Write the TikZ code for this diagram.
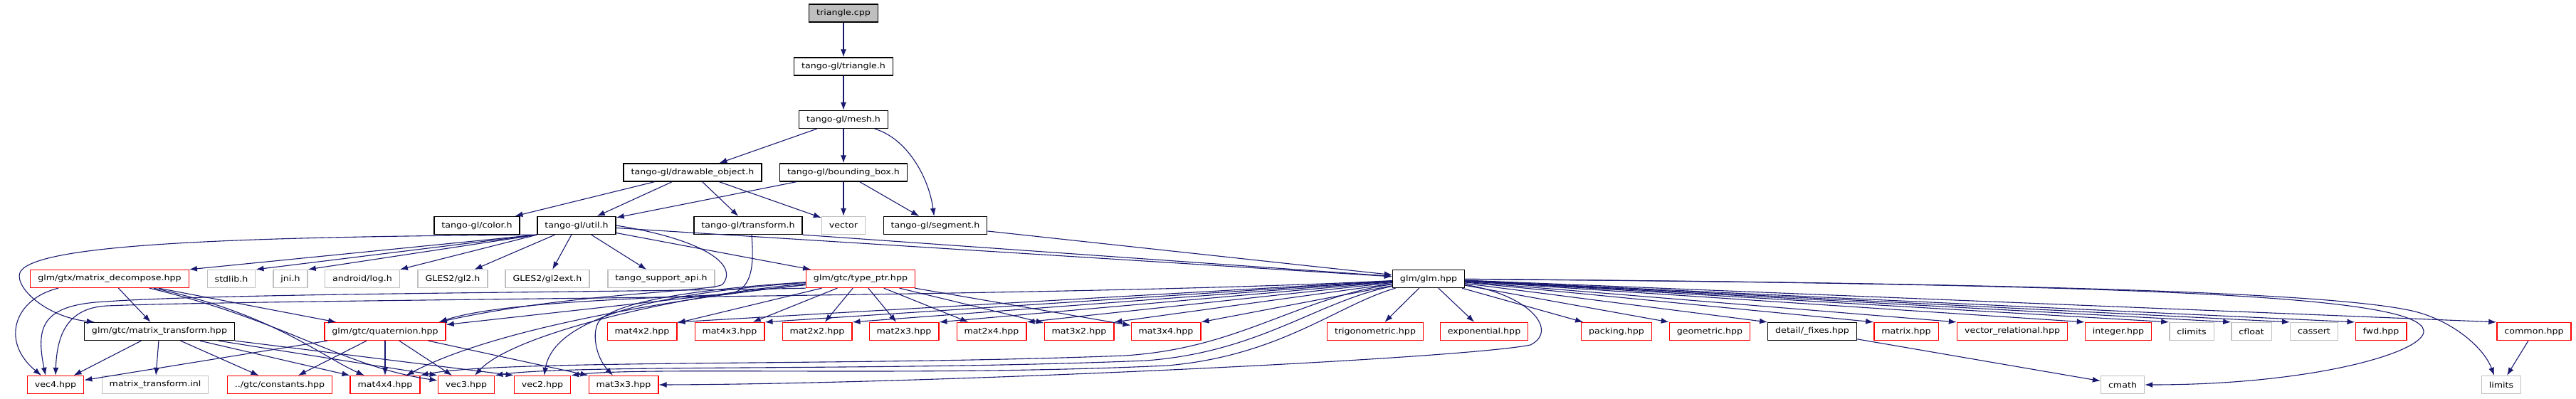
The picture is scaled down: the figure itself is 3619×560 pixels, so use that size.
\documentclass[tikz,border=0pt]{standalone}
\usepackage{fontspec}
\setmainfont[FakeStretch=1.15]{DejaVu Sans}
\usepackage{tikz}
\usetikzlibrary{shapes,arrows,arrows.meta}
\definecolor{edgeblue}{HTML}{191970}
\definecolor{nodegray}{HTML}{BFBFBF}
\tikzstyle{header} = [rectangle, draw=black, fill=white, line width=1.3pt,
    minimum height=25pt, inner xsep=10.5pt, inner ysep=0pt,
    font=\fontsize{11}{13}\selectfont]
\tikzstyle{source} = [header, fill=nodegray]
\tikzstyle{trunc} = [header, draw=red]
\tikzstyle{extern} = [header, draw=nodegray]
\tikzstyle{line} = [draw=edgeblue, line width=1.1pt, -{Latex[length=11pt,width=8pt]}]

\begin{document}
\begin{tikzpicture}[x=1pt, y=-1pt]
    \path [use as bounding box, fill=white] (0,0) rectangle (3619,560);
    % Place nodes
    \node [source] (tricpp) at (1185,18.5) {triangle.cpp};
    \node [header] (trih) at (1185,93.5) {tango-gl/triangle.h};
    \node [header] (mesh) at (1185,168) {tango-gl/mesh.h};
    \node [header] (drawable) at (973,242.5) {tango-gl/drawable\_object.h};
    \node [header] (bbox) at (1185,242.5) {tango-gl/bounding\_box.h};
    \node [header] (color) at (670,317) {tango-gl/color.h};
    \node [header] (util) at (810,317) {tango-gl/util.h};
    \node [header] (transform) at (1051,317) {tango-gl/transform.h};
    \node [extern] (vector) at (1185,317) {vector};
    \node [header] (segment) at (1314,317) {tango-gl/segment.h};
    \node [trunc] (decompose) at (154,392) {glm/gtx/matrix\_decompose.hpp};
    \node [extern] (stdlib) at (325,392) {stdlib.h};
    \node [extern] (jni) at (408,392) {jni.h};
    \node [extern] (log) at (509,392) {android/log.h};
    \node [extern] (gl2) at (636,392) {GLES2/gl2.h};
    \node [extern] (gl2ext) at (769,392) {GLES2/gl2ext.h};
    \node [extern] (tsapi) at (929,392) {tango\_support\_api.h};
    \node [trunc] (typeptr) at (1209,392) {glm/gtc/type\_ptr.hpp};
    \node [header] (glm) at (2007,392) {glm/glm.hpp};
    \node [header] (mtransform) at (224,466) {glm/gtc/matrix\_transform.hpp};
    \node [trunc] (quat) at (541,466) {glm/gtc/quaternion.hpp};
    \node [trunc] (m4x2) at (902,466) {mat4x2.hpp};
    \node [trunc] (m4x3) at (1025,466) {mat4x3.hpp};
    \node [trunc] (m2x2) at (1148,466) {mat2x2.hpp};
    \node [trunc] (m2x3) at (1270,466) {mat2x3.hpp};
    \node [trunc] (m2x4) at (1393,466) {mat2x4.hpp};
    \node [trunc] (m3x2) at (1516,466) {mat3x2.hpp};
    \node [trunc] (m3x4) at (1638,466) {mat3x4.hpp};
    \node [trunc] (trig) at (1932,466) {trigonometric.hpp};
    \node [trunc] (expo) at (2085,466) {exponential.hpp};
    \node [trunc] (packing) at (2271,466) {packing.hpp};
    \node [trunc] (geom) at (2402,466) {geometric.hpp};
    \node [header] (fixes) at (2546,466) {detail/\_fixes.hpp};
    \node [trunc] (matrix) at (2678,466) {matrix.hpp};
    \node [trunc] (vecrel) at (2827,466) {vector\_relational.hpp};
    \node [trunc] (integer) at (2976,466) {integer.hpp};
    \node [extern] (climits) at (3079,466) {climits};
    \node [extern] (cfloat) at (3163,466) {cfloat};
    \node [extern] (cassert) at (3251,466) {cassert};
    \node [trunc] (fwd) at (3345,466) {fwd.hpp};
    \node [trunc] (common) at (3560,466) {common.hpp};
    \node [trunc] (vec4) at (78,541) {vec4.hpp};
    \node [extern] (mtinl) at (218,541) {matrix\_transform.inl};
    \node [trunc] (constants) at (393,541) {../gtc/constants.hpp};
    \node [trunc] (m4x4) at (541,541) {mat4x4.hpp};
    \node [trunc] (vec3) at (655,541) {vec3.hpp};
    \node [trunc] (vec2) at (762,541) {vec2.hpp};
    \node [trunc] (m3x3) at (876,541) {mat3x3.hpp};
    \node [extern] (cmath) at (2982,541) {cmath};
    \node [extern] (limits) at (3514,541) {limits};
    % Draw edges
    \path [line] (tricpp) -- (trih);
    \path [line] (trih) -- (mesh);
    \path [line] (mesh) -- (drawable);
    \path [line] (mesh) -- (bbox);
    \path [line] (mesh) .. controls (1275,195) and (1305,250) .. (segment);
    \path [line] (drawable) -- (color);
    \path [line] (drawable) -- (util);
    \path [line] (drawable) -- (transform);
    \path [line] (drawable) -- (vector);
    \path [line] (bbox) -- (util);
    \path [line] (bbox) -- (vector);
    \path [line] (bbox) -- (segment);
    % util.h
    \path [line] (util.south west) -- (decompose.north east);
    \path [line] (util.south west) -- (stdlib.north east);
    \path [line] (util.south west) -- (jni.north east);
    \path [line] (util.south west) -- (log.north east);
    \path [line] (util) -- (gl2);
    \path [line] (util) -- (gl2ext);
    \path [line] (util) -- (tsapi);
    \path [line] (util) -- (typeptr);
    \path [line] (util) -- (glm);
    \path [line] (util.south west) .. controls (300,333) and (60,345) .. (30,380)
        .. controls (15,398) and (60,445) .. ([xshift=15pt]mtransform.north west);
    \path [line] (util.east) .. controls (980,335) and (1040,370) .. (1015,400)
        .. controls (1000,410) and (800,412) .. ([xshift=-10pt]quat.north east);
    % transform.h and segment.h
    \path [line] ([xshift=5pt]transform.south) .. controls (1060,380) and (1055,410) .. (1020,414)
        .. controls (900,420) and (700,425) .. ([xshift=-10pt]quat.north east);
    \path [line] (transform.south east) -- (glm);
    \path [line] (segment) -- (glm);
    % matrix_decompose.hpp
    \path [line] ([xshift=40pt]decompose.south west) .. controls (20,420) and (0,480) .. ([xshift=-20pt]vec4.north);
    \path [line] (decompose) -- (mtransform);
    \path [line] (decompose) -- (quat);
    \path [line] (decompose) .. controls (380,440) and (450,500) .. (m4x4);
    \path [line] (decompose) .. controls (400,450) and (480,515) .. (vec3);
    % matrix_transform.hpp
    \path [line] (mtransform) -- (vec4);
    \path [line] (mtransform) -- (mtinl);
    \path [line] (mtransform) -- (constants);
    \path [line] (mtransform) -- (m4x4.north west);
    \path [line] (mtransform) -- (vec3.north west);
    \path [line] (mtransform) -- (vec2.north west);
    % quaternion.hpp
    \path [line] (quat) -- (vec4);
    \path [line] (quat) -- (constants);
    \path [line] (quat) -- (m4x4);
    \path [line] (quat) -- (vec3);
    \path [line] (quat) -- (m3x3.north west);
    % type_ptr.hpp
    \path [line] (typeptr) -- (quat);
    \path [line] (typeptr) -- (m4x2);
    \path [line] (typeptr) -- (m4x3);
    \path [line] (typeptr) -- (m2x2);
    \path [line] (typeptr) -- (m2x3);
    \path [line] (typeptr) -- (m2x4);
    \path [line] (typeptr) -- (m3x2);
    \path [line] (typeptr) -- (m3x4);
    \path [line] (typeptr.south west) .. controls (800,412) and (300,412) .. (134,425)
        .. controls (60,432) and (50,460) .. ([xshift=-14pt]vec4.north);
    \path [line] (typeptr) .. controls (950,420) and (700,460) .. ([xshift=-20pt]m4x4.north east);
    \path [line] (typeptr) .. controls (950,415) and (720,470) .. (vec3);
    \path [line] (typeptr) .. controls (950,410) and (780,440) .. (vec2);
    \path [line] (typeptr) .. controls (1000,405) and (880,420) .. (845,448)
        .. controls (830,460) and (835,500) .. ([xshift=-15pt]m3x3.north);
    % glm.hpp, to the left
    \path [line] (glm) -- (m4x2.north east);
    \path [line] (glm) -- (m4x3.north east);
    \path [line] (glm) -- (m2x2.north east);
    \path [line] (glm) -- (m2x3.north east);
    \path [line] (glm) -- (m2x4.north east);
    \path [line] (glm) -- (m3x2.north east);
    \path [line] (glm) -- (m3x4.north east);
    \path [line] (glm) .. controls (1500,418) and (400,420) .. (150,430)
        .. controls (95,433) and (80,470) .. (vec4.north);
    \path [line] (glm) .. controls (1820,420) and (1740,490) .. (1580,500)
        .. controls (1200,515) and (700,505) .. (m4x4.north east);
    \path [line] (glm) .. controls (1850,424) and (1770,495) .. (1610,507)
        .. controls (1250,522) and (800,512) .. (vec3.north east);
    \path [line] (glm) .. controls (1880,428) and (1800,500) .. (1640,514)
        .. controls (1300,530) and (900,515) .. (vec2.north east);
    \path [line] (glm) .. controls (2150,415) and (2190,465) .. (2150,485)
        .. controls (2050,505) and (1300,540) .. (m3x3.east);
    % glm.hpp, to the right
    \path [line] (glm) -- (trig);
    \path [line] (glm) -- (expo);
    \path [line] (glm) -- (packing);
    \path [line] (glm) -- (geom.north west);
    \path [line] (glm) -- (fixes.north west);
    \path [line] (glm) -- (matrix.north west);
    \path [line] (glm) -- (vecrel.north west);
    \path [line] (glm) -- (integer.north west);
    \path [line] (glm) -- (climits.north west);
    \path [line] (glm) -- (cfloat.north west);
    \path [line] (glm) -- (cassert.north west);
    \path [line] (glm) -- (fwd.north west);
    \path [line] (glm) -- (common.north west);
    \path [line] (glm) .. controls (3000,400) and (3400,415) .. (3405,465)
        .. controls (3408,495) and (3250,541) .. (cmath);
    \path [line] (glm) .. controls (2800,398) and (3300,410) .. (3400,440)
        .. controls (3450,455) and (3490,490) .. ([xshift=-10pt]limits.north);
    \path [line] (fixes) -- (cmath);
    \path [line] (common) -- (limits);
\end{tikzpicture}
\end{document}
